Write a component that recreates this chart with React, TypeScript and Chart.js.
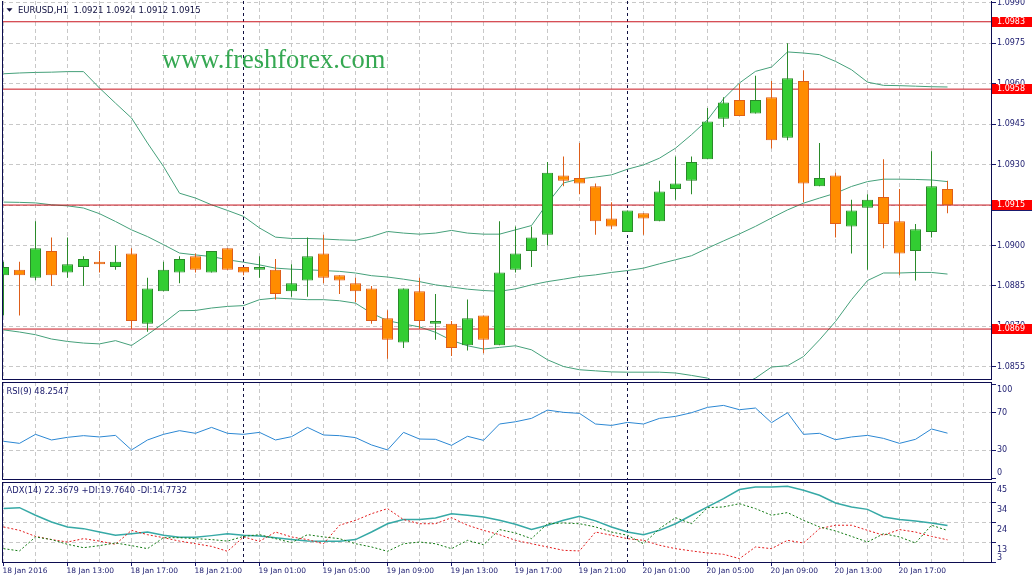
import React, { useEffect, useRef } from 'react';
import { Chart, registerables } from 'chart.js';

Chart.register(...registerables);

// ---------------- DATA ----------------
const opens = [1.0889, 1.0891, 1.0888, 1.0898, 1.0890, 1.0892, 1.0894, 1.0892, 1.0897, 1.0871, 1.0883, 1.0890, 1.0896, 1.0890, 1.0899, 1.0892, 1.0891, 1.0891, 1.0883, 1.0887, 1.0897, 1.0889, 1.0886, 1.0884, 1.0873, 1.0864, 1.0883, 1.0871, 1.0871, 1.0863, 1.0874, 1.0863, 1.0891, 1.0898, 1.0904, 1.0926, 1.0925, 1.0922, 1.0910, 1.0905, 1.0912, 1.0909, 1.0921, 1.0924, 1.0932, 1.0947, 1.0954, 1.0949, 1.0955, 1.0940, 1.0961, 1.0922, 1.0926, 1.0907, 1.0914, 1.0918, 1.0909, 1.0898, 1.0905, 1.0921];
const highs = [1.0894, 1.0894, 1.0909, 1.0903, 1.0903, 1.0896, 1.0898, 1.0900, 1.0899, 1.0888, 1.0894, 1.0896, 1.0897, 1.0898, 1.0899, 1.0892, 1.0896, 1.0895, 1.0893, 1.0903, 1.0904, 1.0889, 1.0888, 1.0885, 1.0876, 1.0884, 1.0888, 1.0882, 1.0872, 1.0880, 1.0874, 1.0909, 1.0907, 1.0907, 1.0931, 1.0933, 1.0938, 1.0923, 1.0916, 1.0913, 1.0912, 1.0924, 1.0933, 1.0933, 1.0951, 1.0955, 1.0960, 1.0963, 1.0961, 1.0975, 1.0965, 1.0938, 1.0927, 1.0917, 1.0919, 1.0932, 1.0921, 1.0908, 1.0935, 1.0924];
const lows = [1.0874, 1.0874, 1.0887, 1.0885, 1.0888, 1.0885, 1.0890, 1.0891, 1.0869, 1.0868, 1.0883, 1.0886, 1.0890, 1.0890, 1.0891, 1.0889, 1.0888, 1.0880, 1.0881, 1.0881, 1.0886, 1.0882, 1.0879, 1.0871, 1.0858, 1.0862, 1.0869, 1.0865, 1.0859, 1.0861, 1.0860, 1.0863, 1.0890, 1.0892, 1.0900, 1.0922, 1.0919, 1.0904, 1.0906, 1.0905, 1.0904, 1.0909, 1.0917, 1.0919, 1.0932, 1.0944, 1.0948, 1.0949, 1.0936, 1.0939, 1.0916, 1.0922, 1.0903, 1.0897, 1.0891, 1.0899, 1.0889, 1.0887, 1.0903, 1.0912];
const closes = [1.0892, 1.0889, 1.0899, 1.0889, 1.0893, 1.0895, 1.0893, 1.0894, 1.0872, 1.0884, 1.0891, 1.0895, 1.0891, 1.0898, 1.0891, 1.0890, 1.0892, 1.0882, 1.0886, 1.0896, 1.0888, 1.0887, 1.0883, 1.0872, 1.0865, 1.0884, 1.0872, 1.0872, 1.0862, 1.0873, 1.0865, 1.0890, 1.0897, 1.0903, 1.0927, 1.0924, 1.0923, 1.0909, 1.0907, 1.0913, 1.0910, 1.0920, 1.0923, 1.0931, 1.0946, 1.0953, 1.0948, 1.0954, 1.0939, 1.0962, 1.0923, 1.0925, 1.0908, 1.0913, 1.0917, 1.0908, 1.0897, 1.0906, 1.0922, 1.0915];

const bbUpper = [1.09637, 1.09640, 1.09642, 1.09643, 1.09645, 1.09645, 1.09584, 1.09528, 1.09473, 1.09380, 1.09293, 1.09194, 1.09176, 1.09151, 1.09130, 1.09108, 1.09065, 1.09031, 1.09026, 1.09026, 1.09024, 1.09021, 1.09019, 1.09033, 1.09052, 1.09046, 1.09042, 1.09046, 1.09056, 1.09046, 1.09042, 1.09042, 1.09058, 1.09074, 1.09157, 1.09232, 1.09247, 1.09254, 1.09262, 1.09283, 1.09299, 1.09324, 1.09361, 1.09411, 1.09466, 1.09544, 1.09603, 1.09646, 1.09662, 1.09718, 1.09714, 1.09708, 1.09683, 1.09652, 1.09606, 1.09594, 1.09593, 1.09591, 1.09589, 1.09588];
const bbMiddle = [1.09161, 1.09160, 1.09158, 1.09151, 1.09147, 1.09139, 1.09118, 1.09089, 1.09058, 1.09033, 1.09003, 1.08972, 1.08965, 1.08959, 1.08947, 1.08938, 1.08928, 1.08916, 1.08912, 1.08910, 1.08907, 1.08904, 1.08898, 1.08888, 1.08883, 1.08875, 1.08866, 1.08854, 1.08846, 1.08838, 1.08833, 1.08830, 1.08839, 1.08854, 1.08866, 1.08875, 1.08885, 1.08891, 1.08900, 1.08907, 1.08916, 1.08932, 1.08947, 1.08962, 1.08990, 1.09017, 1.09043, 1.09071, 1.09102, 1.09132, 1.09157, 1.09176, 1.09194, 1.09219, 1.09237, 1.09246, 1.09246, 1.09245, 1.09243, 1.09237];
const bbLower = [1.08687, 1.08679, 1.08669, 1.08653, 1.08644, 1.08638, 1.08635, 1.08647, 1.08629, 1.08669, 1.08712, 1.08758, 1.08759, 1.08768, 1.08774, 1.08777, 1.08799, 1.08805, 1.08802, 1.08799, 1.08799, 1.08795, 1.08786, 1.08749, 1.08721, 1.08709, 1.08698, 1.08678, 1.08648, 1.08628, 1.08616, 1.08622, 1.08628, 1.08613, 1.08576, 1.08551, 1.08539, 1.08535, 1.08531, 1.08530, 1.08530, 1.08530, 1.08527, 1.08518, 1.08508, 1.08480, 1.08480, 1.08508, 1.08549, 1.08554, 1.08588, 1.08650, 1.08718, 1.08799, 1.08870, 1.08898, 1.08898, 1.08900, 1.08900, 1.08894];

const rsi = [39.6, 37.4, 47.0, 41.0, 43.8, 45.6, 44.2, 45.9, 30.4, 41.0, 47.0, 50.9, 48.1, 54.4, 48.1, 47.0, 49.1, 41.0, 44.5, 54.4, 46.3, 45.6, 43.5, 35.7, 30.4, 49.1, 42.0, 41.7, 35.3, 44.9, 40.6, 58.0, 60.4, 64.0, 72.8, 70.4, 69.3, 58.0, 56.5, 59.7, 58.0, 64.0, 66.1, 70.0, 75.7, 77.8, 73.2, 75.0, 59.4, 70.0, 47.0, 48.1, 41.3, 44.2, 45.9, 42.7, 37.4, 41.7, 52.7, 48.25];

const adx = [31.3, 31.8, 27.8, 24.2, 21.6, 20.7, 18.9, 17.2, 18.0, 18.9, 17.2, 16.1, 16.1, 17.0, 18.0, 17.2, 16.8, 15.9, 15.0, 14.2, 14.0, 14.0, 14.9, 18.9, 23.3, 25.5, 25.5, 26.3, 28.6, 27.8, 26.9, 25.1, 23.0, 20.3, 22.5, 25.1, 27.2, 24.8, 21.6, 18.9, 17.5, 19.8, 23.3, 27.8, 32.2, 36.6, 41.4, 42.8, 42.8, 43.1, 41.0, 38.4, 34.3, 32.2, 30.9, 26.9, 25.6, 24.8, 23.7, 22.37];
const plusDI = [10.1, 8.9, 16.3, 14.9, 12.4, 10.6, 11.7, 13.1, 11.7, 10.1, 15.9, 15.9, 15.4, 14.9, 14.1, 16.6, 17.5, 15.4, 13.3, 17.5, 16.3, 15.4, 12.7, 11.0, 8.7, 12.7, 13.6, 12.7, 10.1, 14.5, 12.2, 20.2, 18.4, 15.4, 23.3, 23.7, 23.3, 21.6, 18.9, 17.2, 12.7, 20.7, 26.5, 23.3, 31.8, 32.2, 33.9, 31.3, 27.8, 29.2, 25.1, 21.6, 19.5, 16.6, 13.6, 18.0, 16.3, 13.1, 22.5, 19.76];
const minusDI = [21.6, 19.8, 16.6, 14.9, 13.6, 15.4, 14.1, 12.4, 19.8, 17.5, 15.9, 14.1, 12.7, 11.3, 8.7, 16.3, 14.0, 18.9, 16.3, 14.9, 12.7, 22.5, 25.1, 28.6, 31.3, 25.5, 23.3, 23.3, 26.5, 22.5, 19.8, 17.5, 14.5, 12.7, 11.0, 9.2, 8.9, 18.9, 17.2, 15.4, 14.5, 11.9, 10.1, 8.9, 7.8, 7.1, 4.8, 11.0, 10.1, 14.5, 13.1, 20.7, 22.5, 22.5, 19.8, 17.2, 20.2, 18.9, 16.6, 14.77];

const xLabelIdx = [0, 4, 8, 12, 16, 20, 24, 28, 32, 36, 40, 44, 48, 52, 56];
const xTickLabels = ['18 Jan 2016', '18 Jan 13:00', '18 Jan 17:00', '18 Jan 21:00', '19 Jan 01:00', '19 Jan 05:00', '19 Jan 09:00', '19 Jan 13:00', '19 Jan 17:00', '19 Jan 21:00', '20 Jan 01:00', '20 Jan 05:00', '20 Jan 09:00', '20 Jan 13:00', '20 Jan 17:00'];
const dayBreakIdx = [15, 39];

const priceTicks = [1.0990, 1.0975, 1.0960, 1.0945, 1.0930, 1.0915, 1.0900, 1.0885, 1.0870, 1.0855];
const levels = [1.0983, 1.0958, 1.0915, 1.0869];
const currentPrice = 1.0915;

const rsiTickValues = [100, 70, 30, 0];
const rsiTickLabels = ['100', '70', '30', '0'];
const rsiLevels = [70, 30];

const adxTickValues = [45.4, 34.8, 24.2, 13.6, 3.0];
const adxTickLabels = ['45', '34', '24', '13', '3'];

const headerText = 'EURUSD,H1  1.0921 1.0924 1.0912 1.0915';
const rsiTitle = 'RSI(9) 48.2547';
const adxTitle = 'ADX(14) 22.3679 +DI:19.7640 -DI:14.7732';
const watermark = 'www.freshforex.com';

// ---------------- STYLE / LAYOUT ----------------
const W = 1033;
const AXIS_W = 41;
const X_MIN = -0.09375;
const X_MAX = 61.78125;
const PRICE_MIN = 1.08501;
const PRICE_MAX = 1.09907;
const GRID = '#c8c8c8';
const NAVY = '#1a1a6e';
const BORDER = '#0c0c50';
const SEP = '#101040';
const BULL_FILL = '#32cd32';
const BULL_EDGE = '#2a8a2a';
const BEAR_FILL = '#ff8c00';
const BEAR_EDGE = '#de5e1a';
const BB_COLOR = '#45a07a';
const LEVEL_COLOR = '#c8141e';
const FONT = '"DejaVu Sans"';

const xGridIdx = Array.from({ length: 31 }, (_, k) => k * 2);
const xLabelMap = new Map<number, string>(xLabelIdx.map((v, i) => [v, xTickLabels[i]]));

function xAxis(showLabels: boolean): any {
  return {
    type: 'linear',
    min: X_MIN,
    max: X_MAX,
    offset: false,
    grid: {
      display: true,
      offset: false,
      color: GRID,
      lineWidth: 1,
      drawTicks: showLabels,
      tickLength: 3,
      tickWidth: 1,
      tickColor: (c: any) => (c.tick && xLabelMap.has(c.tick.value) ? NAVY : 'rgba(0,0,0,0)'),
    },
    border: { display: false, dash: [4, 3] },
    ticks: {
      display: showLabels,
      autoSkip: false,
      maxRotation: 0,
      minRotation: 0,
      align: 'start',
      labelOffset: -1,
      padding: 1,
      color: NAVY,
      font: { family: 'DejaVu Sans', size: 7.5 },
      callback: (v: number) => xLabelMap.get(v) ?? '',
    },
    afterBuildTicks: (s: any) => {
      s.ticks = xGridIdx.map((v) => ({ value: v }));
    },
    afterFit: (s: any) => {
      s.height = showLabels ? 20 : 0;
      s.paddingLeft = 0;
      s.paddingRight = 0;
    },
  };
}

function yAxis(min: number, max: number, gridValues: number[]): any {
  return {
    type: 'linear',
    position: 'right',
    min,
    max,
    beginAtZero: false,
    grid: { color: GRID, lineWidth: 1, drawTicks: false },
    border: { display: false, dash: [4, 3] },
    ticks: { display: false },
    afterBuildTicks: (s: any) => {
      s.ticks = gridValues.map((v) => ({ value: v }));
    },
    afterFit: (s: any) => {
      s.width = AXIS_W;
      s.paddingTop = 0;
      s.paddingBottom = 0;
    },
  };
}

function drawSeparators(chart: any) {
  const { ctx, chartArea: a, scales } = chart;
  ctx.save();
  ctx.strokeStyle = SEP;
  ctx.lineWidth = 1;
  ctx.setLineDash([3, 3]);
  for (const idx of dayBreakIdx) {
    const px = Math.round(scales.x.getPixelForValue(idx) - 0.5) + 0.5;
    ctx.beginPath();
    ctx.moveTo(px, a.top);
    ctx.lineTo(px, a.bottom);
    ctx.stroke();
  }
  ctx.restore();
}

function drawFrame(chart: any, top: boolean) {
  const { ctx, chartArea: a } = chart;
  ctx.save();
  ctx.strokeStyle = BORDER;
  ctx.lineWidth = 1;
  ctx.setLineDash([]);
  ctx.beginPath();
  ctx.moveTo(a.left + 0.5, a.top);
  ctx.lineTo(a.left + 0.5, a.bottom);
  ctx.moveTo(a.right - 0.5, a.top);
  ctx.lineTo(a.right - 0.5, a.bottom);
  ctx.moveTo(a.left, a.bottom - 0.5);
  ctx.lineTo(a.right, a.bottom - 0.5);
  if (top) {
    ctx.moveTo(a.left, a.top + 0.5);
    ctx.lineTo(a.right, a.top + 0.5);
  }
  ctx.stroke();
  ctx.restore();
}

function drawSideLabels(chart: any, values: number[], labels: string[], offset: number, clamp: number[] | null) {
  const { ctx, chartArea: a, scales } = chart;
  const ys = scales.y;
  ctx.save();
  ctx.font = `8px ${FONT}`;
  ctx.fillStyle = NAVY;
  ctx.strokeStyle = NAVY;
  ctx.lineWidth = 1;
  ctx.textAlign = 'left';
  ctx.textBaseline = 'middle';
  values.forEach((v, i) => {
    const py = ys.getPixelForValue(v);
    if (py >= a.top - 1 && py <= a.bottom + 1) {
      const ty = Math.round(py - 0.5) + 0.5;
      ctx.beginPath();
      ctx.moveTo(a.right, ty);
      ctx.lineTo(a.right + 4, ty);
      ctx.stroke();
    }
    let y = py + offset;
    if (clamp) y = Math.min(Math.max(y, a.top + clamp[0]), a.bottom - clamp[1]);
    ctx.fillText(labels[i], a.right + 5, y);
  });
  ctx.restore();
}

const mainPlugin: any = {
  id: 'mainPanel',
  beforeDatasetsDraw(chart: any) {
    drawSeparators(chart);
  },
  afterDraw(chart: any) {
    const { ctx, chartArea: a, scales } = chart;
    drawFrame(chart, false);
    drawSideLabels(chart, priceTicks, priceTicks.map((v) => v.toFixed(4)), 0, null);
    ctx.save();
    ctx.font = `8px ${FONT}`;
    ctx.textAlign = 'left';
    ctx.textBaseline = 'middle';
    levels.forEach((v) => {
      const py = Math.round(scales.y.getPixelForValue(v));
      ctx.fillStyle = '#ff0000';
      ctx.fillRect(a.right, py - 5, 40, 10);
      ctx.fillStyle = '#ffffff';
      ctx.fillText(v.toFixed(4), a.right + 5, py);
      if (v === currentPrice) {
        ctx.fillStyle = NAVY;
        ctx.fillRect(a.right, py + 5, 40, 1);
      }
    });
    // header
    ctx.fillStyle = '#101040';
    ctx.beginPath();
    ctx.moveTo(6.5, 8.3);
    ctx.lineTo(12.5, 8.3);
    ctx.lineTo(9.5, 11.8);
    ctx.closePath();
    ctx.fill();
    ctx.font = `8.5px ${FONT}`;
    ctx.textBaseline = 'alphabetic';
    ctx.fillText(headerText, 18, 12.5);
    // watermark
    ctx.fillStyle = '#35a852';
    ctx.font = '26.5px "Liberation Serif"';
    ctx.fillText(watermark, 162, 68);
    ctx.restore();
  },
};

const rsiPlugin: any = {
  id: 'rsiPanel',
  beforeDatasetsDraw(chart: any) {
    drawSeparators(chart);
  },
  afterDraw(chart: any) {
    const { ctx } = chart;
    drawFrame(chart, true);
    drawSideLabels(chart, rsiTickValues, rsiTickLabels, 0, [8, 7]);
    ctx.save();
    ctx.fillStyle = '#202070';
    ctx.font = `8.3px ${FONT}`;
    ctx.textBaseline = 'alphabetic';
    ctx.fillText(rsiTitle, 6.5, 13.3);
    ctx.restore();
  },
};

const adxPlugin: any = {
  id: 'adxPanel',
  beforeDatasetsDraw(chart: any) {
    drawSeparators(chart);
  },
  afterDraw(chart: any) {
    const { ctx } = chart;
    drawFrame(chart, true);
    drawSideLabels(chart, adxTickValues, adxTickLabels, 8, [6.5, 5]);
    ctx.save();
    ctx.fillStyle = '#202070';
    ctx.font = `8.4px ${FONT}`;
    ctx.textBaseline = 'alphabetic';
    ctx.fillText(adxTitle, 6.5, 12.3);
    ctx.restore();
  },
};

const baseOpts = {
  responsive: false,
  animation: false as const,
  events: [] as any[],
  devicePixelRatio: 1,
};

function lineDs(values: number[], color: string, width: number, order: number, dash: number[] = []): any {
  return {
    type: 'line',
    data: values.map((v, i) => ({ x: i, y: v })),
    borderColor: color,
    borderWidth: width,
    borderDash: dash,
    pointRadius: 0,
    fill: false,
    tension: 0,
    order,
  };
}

function mainConfig(): any {
  const bull = closes.map((c, i) => c >= opens[i]);
  return {
    type: 'bar',
    data: {
      datasets: [
        {
          type: 'bar',
          data: opens.map((o, i) => ({ x: i, y: [o, closes[i]] })),
          backgroundColor: bull.map((b) => (b ? BULL_FILL : BEAR_FILL)),
          borderColor: bull.map((b) => (b ? BULL_EDGE : BEAR_EDGE)),
          borderWidth: 1,
          borderSkipped: false,
          barThickness: 11,
          grouped: false,
          inflateAmount: 0,
          order: 0,
        },
        {
          type: 'bar',
          data: lows.map((l, i) => ({ x: i, y: [l, highs[i]] })),
          backgroundColor: bull.map((b) => (b ? BULL_EDGE : BEAR_EDGE)),
          borderWidth: 0,
          barThickness: 1,
          grouped: false,
          inflateAmount: 0,
          order: 1,
        },
        ...levels.map((lv) => ({
          type: 'line',
          data: [
            { x: X_MIN, y: lv },
            { x: X_MAX, y: lv },
          ],
          borderColor: LEVEL_COLOR,
          borderWidth: 1,
          pointRadius: 0,
          fill: false,
          order: 2,
        })),
        lineDs(bbUpper, BB_COLOR, 1, 3),
        lineDs(bbMiddle, BB_COLOR, 1, 3),
        lineDs(bbLower, BB_COLOR, 1, 3),
      ],
    },
    options: {
      ...baseOpts,
      layout: { padding: { left: 2, right: 0, top: 1, bottom: 1 } },
      plugins: { legend: { display: false }, tooltip: { enabled: false }, title: { display: false } },
      scales: {
        x: xAxis(false),
        y: yAxis(PRICE_MIN, PRICE_MAX, priceTicks),
      },
    },
    plugins: [mainPlugin],
  };
}

function rsiConfig(): any {
  return {
    type: 'line',
    data: { datasets: [lineDs(rsi, '#2b87d3', 1, 0)] },
    options: {
      ...baseOpts,
      layout: { padding: { left: 2, right: 0, top: 1, bottom: 1 } },
      plugins: { legend: { display: false }, tooltip: { enabled: false } },
      scales: {
        x: xAxis(false),
        y: yAxis(-1.6, 102.7, rsiLevels),
      },
    },
    plugins: [rsiPlugin],
  };
}

function adxConfig(): any {
  return {
    type: 'line',
    data: {
      datasets: [
        lineDs(plusDI, '#137a13', 1, 0, [2, 2]),
        lineDs(minusDI, '#e31b1b', 1, 1, [2, 2]),
        lineDs(adx, '#36a9a6', 1.5, 2),
      ],
    },
    options: {
      ...baseOpts,
      layout: { padding: { left: 2, right: 0, top: 1, bottom: 0 } },
      plugins: { legend: { display: false }, tooltip: { enabled: false } },
      scales: {
        x: xAxis(true),
        y: yAxis(2.5, 45.4, adxTickValues.slice(1, 4)),
      },
    },
    plugins: [adxPlugin],
  };
}

export default function App() {
  const mainRef = useRef<HTMLCanvasElement>(null);
  const rsiRef = useRef<HTMLCanvasElement>(null);
  const adxRef = useRef<HTMLCanvasElement>(null);

  useEffect(() => {
    const charts = [
      new Chart(mainRef.current as HTMLCanvasElement, mainConfig()),
      new Chart(rsiRef.current as HTMLCanvasElement, rsiConfig()),
      new Chart(adxRef.current as HTMLCanvasElement, adxConfig()),
    ];
    return () => charts.forEach((c) => c.destroy());
  }, []);

  const cs = (top: number, h: number): React.CSSProperties => ({
    position: 'absolute',
    left: 0,
    top,
    width: W,
    height: h,
  });

  return (
    <div style={{ position: 'fixed', left: 0, top: 0, width: W, height: 583, background: '#ffffff', overflow: 'hidden' }}>
      <canvas ref={mainRef} width={W} height={381} style={cs(0, 381)} />
      <canvas ref={rsiRef} width={W} height={100} style={cs(381, 100)} />
      <canvas ref={adxRef} width={W} height={102} style={cs(481, 102)} />
    </div>
  );
}
